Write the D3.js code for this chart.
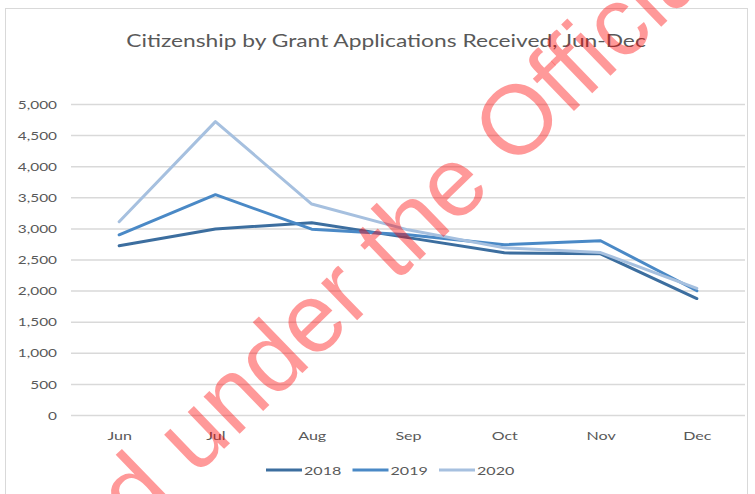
<!DOCTYPE html>
<html>
<head>
<meta charset="utf-8">
<script src="https://cdn.jsdelivr.net/npm/d3@7"></script>
<style>
  body { margin: 0; background: #fff; }
  svg { display: block; }
</style>
</head>
<body>
<svg id="chart" width="755" height="494"></svg>
<script>
// data
var months = ["Jun", "Jul", "Aug", "Sep", "Oct", "Nov", "Dec"]
var years = ["2018", "2019", "2020"]
var apps2018 = [2730, 3000, 3100, 2860, 2615, 2600, 1880]
var apps2019 = [2905, 3550, 2995, 2905, 2745, 2810, 2005]
var apps2020 = [3115, 4725, 3400, 2985, 2695, 2620, 2045]
var yTicks = [0, 500, 1000, 1500, 2000, 2500, 3000, 3500, 4000, 4500, 5000]
var colors = ["#3c6e9f", "#4a89c6", "#a6c0df"]

var series = [apps2018, apps2019, apps2020].map(function(vals, i) {
    return { name: years[i], color: colors[i], values: vals }
})

var svg = d3.select("#chart")
var font = "Lato, Calibri, sans-serif"
// the source picture is stretched sideways, so the text is too
var stretch = 1.34

// chart frame
svg.append("rect")
    .attr("x", 5.5).attr("y", 8.5)
    .attr("width", 742).attr("height", 500)
    .attr("fill", "#fff")
    .attr("stroke", "#d9d9d9")

svg.append("text")
    .attr("transform", "translate(386,47) scale(" + stretch + ",1)")
    .attr("text-anchor", "middle")
    .style("font-family", font)
    .style("font-size", "17px")
    .style("fill", "#595959")
    .text("Citizenship by Grant Applications Received, Jun-Dec")

var left = 71, right = 745
var x = d3.scalePoint().domain(months).range([left, right]).padding(0.5)
var y = d3.scaleLinear().domain([0, 5000]).range([415.5, 104.5])

// gridlines
svg.append("g")
    .selectAll("line")
    .data(yTicks).enter()
    .append("line")
    .attr("x1", left).attr("x2", right)
    .attr("y1", function(d) { return y(d) })
    .attr("y2", function(d) { return y(d) })
    .attr("stroke", "#d9d9d9")
    .attr("stroke-width", 1.5)

// y axis labels
var yAxis = svg.append("g")
    .attr("transform", "translate(" + (left - 7) + ",0)")
    .call(d3.axisLeft(y).tickValues(yTicks).tickSize(0).tickPadding(7).tickFormat(d3.format(",")))
yAxis.select(".domain").remove()
yAxis.selectAll("text")
    .attr("x", -7 / stretch)
    .attr("transform", "scale(" + stretch + ",1)")
    .style("font-family", font)
    .style("font-size", "11.5px")
    .style("fill", "#595959")

// x axis labels
var xAxis = svg.append("g")
    .attr("transform", "translate(0,425)")
    .call(d3.axisBottom(x).tickSize(0).tickPadding(6))
xAxis.select(".domain").remove()
xAxis.selectAll("text")
    .attr("transform", "scale(" + stretch + ",1)")
    .style("font-family", font)
    .style("font-size", "12px")
    .style("fill", "#595959")

// lines
var line = d3.line()
    .x(function(d, i) { return x(months[i]) })
    .y(function(d) { return y(d) })

svg.append("g")
    .selectAll("path")
    .data(series).enter()
    .append("path")
    .attr("d", function(d) { return line(d.values) })
    .attr("fill", "none")
    .attr("stroke", function(d) { return d.color })
    .attr("stroke-width", 3)
    .attr("stroke-linejoin", "round")
    .attr("stroke-linecap", "round")

// legend
var legend = svg.append("g")
    .selectAll("g")
    .data(series).enter()
    .append("g")
    .attr("transform", function(d, i) { return "translate(" + (266 + i * 86.5) + ",470)" })

legend.append("line")
    .attr("x1", 0).attr("x2", 36)
    .attr("stroke", function(d) { return d.color })
    .attr("stroke-width", 3)
legend.append("text")
    .attr("transform", "translate(38,4.5) scale(" + stretch + ",1)")
    .style("font-family", font)
    .style("font-size", "12px")
    .style("fill", "#595959")
    .text(function(d) { return d.name })

// watermark across the page
svg.append("text")
    .attr("transform", "translate(-122,783) rotate(-44)")
    .style("font-family", "'Liberation Sans', Arial, sans-serif")
    .style("font-size", "98px")
    .style("fill", "#ff0000")
    .style("fill-opacity", 0.4)
    .text("Released under the Official Information Act")
</script>
</body>
</html>
